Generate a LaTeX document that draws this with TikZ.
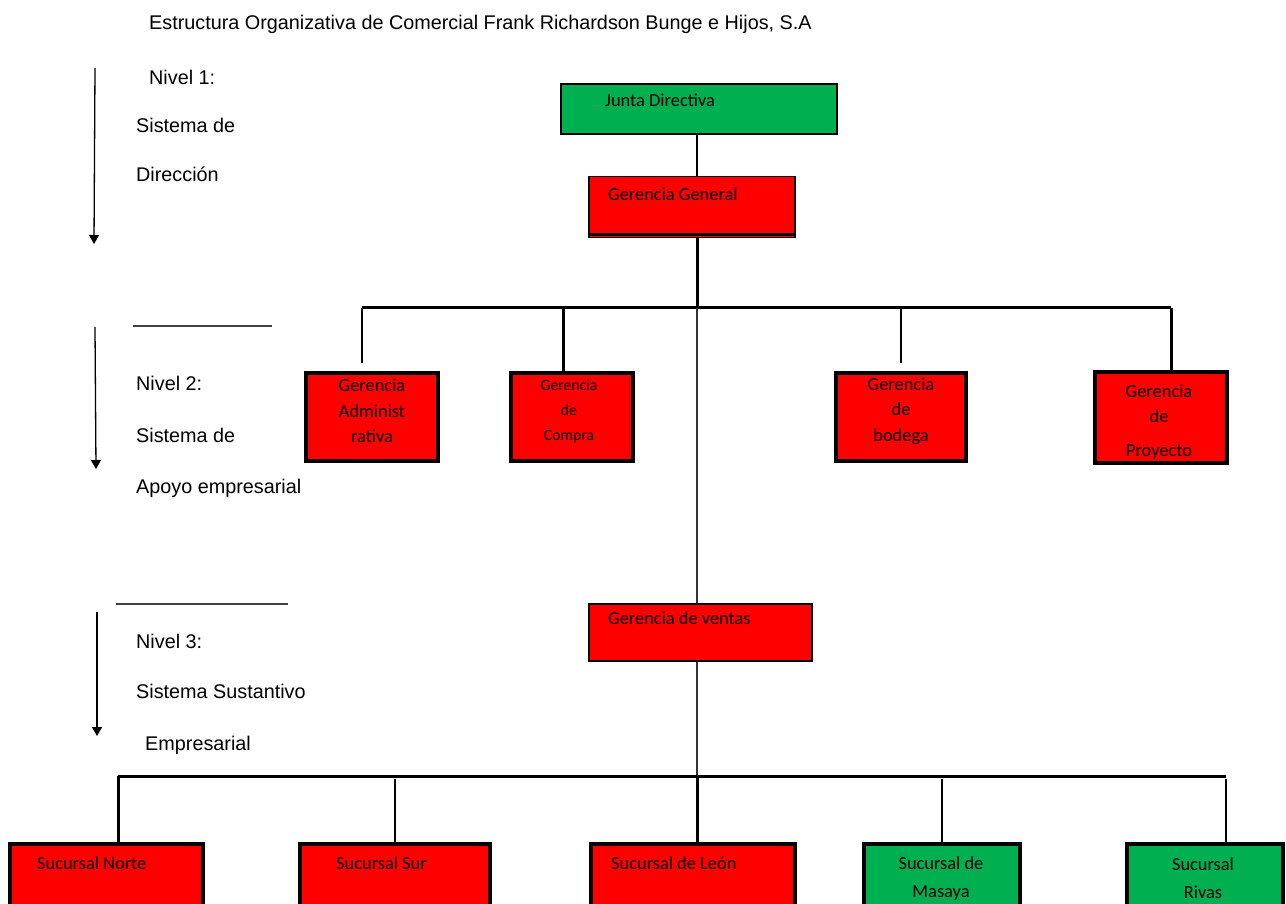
\documentclass[tikz,border=0pt]{standalone}
\usepackage{fontspec}
\setmainfont{Liberation Sans}
\newfontfamily\boxfont{Carlito}
\usetikzlibrary{arrows.meta}
\definecolor{boxred}{HTML}{FF0000}
\definecolor{boxgreen}{HTML}{00B050}
\tikzset{
  thinbox/.style={draw=black, line width=1.5pt, inner sep=0pt},
  thickbox/.style={draw=black, line width=3.2pt, inner sep=0pt},
  boxtext/.style={font=\boxfont\fontsize{18.4}{25.5}\selectfont, inner sep=0pt, align=center},
  smalltext/.style={font=\boxfont\fontsize{15.7}{25}\selectfont, inner sep=0pt, align=center},
  sidetext/.style={font=\fontsize{19.8}{24}\selectfont, inner sep=0pt, anchor=base west},
  thinline/.style={line width=1.4pt},
  thickline/.style={line width=3pt},
  levelarrow/.style={line width=1.3pt, -{Triangle[width=10pt,length=9pt]}},
  sepline/.style={line width=1.6pt, draw=black!75},
}
\begin{document}
\begin{tikzpicture}[x=1pt,y=-1pt]
\useasboundingbox (0,0) rectangle (1286,904);
\node[sidetext] (title) at (149,30) {Estructura Organizativa de Comercial Frank Richardson Bunge e Hijos, S.A};
% niveles
\coordinate (a1s) at (95,68);
\coordinate (a1e) at (94,244);
\coordinate (a2s) at (95,327);
\coordinate (a2e) at (96,469);
\coordinate (a3s) at (97,612);
\coordinate (a3e) at (97,736);
\draw[levelarrow] (a1s) -- (a1e);
\draw[levelarrow] (a2s) -- (a2e);
\draw[levelarrow] (a3s) -- (a3e);
\coordinate (s1l) at (133,326);
\coordinate (s1r) at (272,326);
\coordinate (s2l) at (116,604);
\coordinate (s2r) at (288,604);
\draw[sepline] (s1l) -- (s1r);
\draw[sepline] (s2l) -- (s2r);
\node[sidetext] (n1) at (149,85) {Nivel 1:};
\node[sidetext] (n1a) at (136,133) {Sistema de};
\node[sidetext] (n1b) at (136,182) {Dirección};
\node[sidetext] (n2) at (136,390) {Nivel 2:};
\node[sidetext] (n2a) at (136,442) {Sistema de};
\node[sidetext] (n2b) at (136,493) {Apoyo empresarial};
\node[sidetext] (n3) at (136,648) {Nivel 3:};
\node[sidetext] (n3a) at (136,698) {Sistema Sustantivo};
\node[sidetext] (n3b) at (145,750) {Empresarial};
% cajas
\node[thinbox, fill=boxgreen, minimum width=276, minimum height=50] (jd) at (699,109) {};
\node[thinbox, fill=boxred, minimum width=206, minimum height=61] (gg) at (692,207) {};
\node[thickbox, fill=boxred, minimum width=132, minimum height=88] (adm) at (372,417) {};
\node[thickbox, fill=boxred, minimum width=122, minimum height=88] (com) at (572,417) {};
\node[thickbox, fill=boxred, minimum width=130, minimum height=88] (bod) at (901,417) {};
\node[thickbox, fill=boxred, minimum width=132, minimum height=91] (pro) at (1161,417.5) {};
\node[thinbox, fill=boxred, minimum width=223, minimum height=57] (ven) at (700.5,632.5) {};
\node[thickbox, fill=boxred, minimum width=193, minimum height=66] (nor) at (106.5,877) {};
\node[thickbox, fill=boxred, minimum width=190, minimum height=66] (sur) at (395,877) {};
\node[thickbox, fill=boxred, minimum width=204, minimum height=66] (leo) at (693,877) {};
\node[thickbox, fill=boxgreen, minimum width=156, minimum height=66] (mas) at (942,877) {};
\node[thickbox, fill=boxgreen, minimum width=156, minimum height=66] (riv) at (1205,877) {};
\draw[thickline] ([yshift=4pt]gg.south west) -- ([yshift=4pt]gg.south east);
% textos
\node[boxtext, anchor=base west] (jdt) at (605,107) {Junta Directiva};
\node[boxtext, anchor=base west] (ggt) at (608,201) {Gerencia General};
\node[boxtext, anchor=base west] (vent) at (608,624) {Gerencia de ventas};
\node[boxtext] (admt) at (372,411) {Gerencia\\Administ\\rativa};
\node[smalltext] (comt) at (569,411) {Gerencia\\de\\Compra};
\node[boxtext] (bodt) at (901,411) {Gerencia\\de\\bodega};
\node[boxtext] (prot) at (1159,422) {Gerencia\\de\\[8pt]Proyecto};
\node[boxtext, anchor=base west] (nort) at (37,869) {Sucursal Norte};
\node[boxtext, anchor=base west] (surt) at (336,869) {Sucursal Sur};
\node[boxtext, anchor=base west] (leot) at (611,869) {Sucursal de León};
\node[boxtext, font=\boxfont\fontsize{18.4}{28}\selectfont] (mast) at (941,879) {Sucursal de\\Masaya};
\node[boxtext, font=\boxfont\fontsize{18.4}{28}\selectfont] (rivt) at (1203,878) {Sucursal\\Rivas};
% conectores
\coordinate (trunk) at (697,308);
\coordinate (busL) at (362,308);
\coordinate (busR) at (1171,308);
\coordinate (dcom) at (563,308);
\coordinate (bus2L) at (118,776);
\coordinate (bus2R) at (1226,776);
\draw[thinline] (trunk |- jd.south) -- (trunk |- gg.north);
\draw[thickline] (trunk |- gg.south) -- (trunk);
\draw[thickline] (busL) -- (busR);
\draw[thinline, shorten >=8pt] (busL) -- (busL |- adm.north);
\draw[thickline] (dcom) -- (dcom |- com.north);
\draw[thinline, shorten >=8pt] (bod.north |- busL) -- (bod.north);
\draw[thickline] (busR) -- (busR |- pro.north);
\draw[line width=2pt, draw=black!80] (trunk) -- (trunk |- ven.north);
\draw[line width=2pt, draw=black!80] (trunk |- ven.south) -- (trunk |- bus2L);
\draw[thickline] (bus2L) -- (bus2R);
\draw[thickline] (bus2L) -- (bus2L |- nor.north);
\draw[thinline, shorten <=3pt] (sur.north |- bus2L) -- (sur.north);
\draw[thickline] (trunk |- bus2L) -- (trunk |- leo.north);
\draw[thinline, shorten <=3pt] (mas.north |- bus2L) -- (mas.north);
\draw[thinline, shorten <=3pt] (bus2R) -- (bus2R |- riv.north);
\end{tikzpicture}
\end{document}
